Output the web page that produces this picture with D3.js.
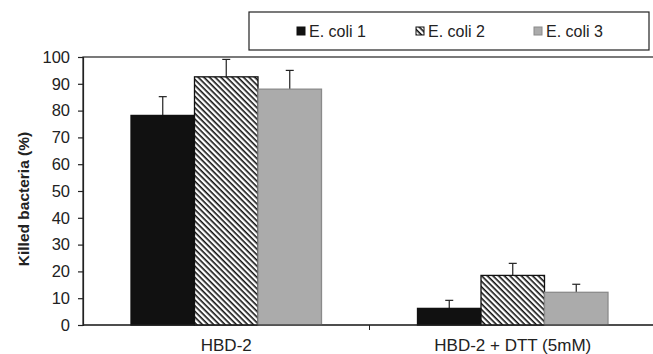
<!DOCTYPE html>
<html>
<head>
<meta charset="utf-8">
<script src="https://cdn.jsdelivr.net/npm/d3@7"></script>
<style>
  body { margin: 0; background: #fff; }
  text { font-family: "Liberation Sans", Arial, sans-serif; }
</style>
</head>
<body>
<script>
// values
var groups = ['HBD-2', 'HBD-2 + DTT (5mM)'];
var series = ['E. coli 1', 'E. coli 2', 'E. coli 3'];
var means = [[78.2, 92.6, 88.0], [6.2, 18.5, 12.2]];
var errs  = [[7.0, 6.5, 7.0], [3.0, 4.5, 3.0]];
var yTicks = [0, 10, 20, 30, 40, 50, 60, 70, 80, 90, 100];

var W = 653, H = 354;
var margin = {top: 57, right: -3, bottom: 29, left: 83},
  width = W - margin.left - margin.right,
  height = H - margin.top - margin.bottom;

var svg = d3.select('body').append('svg')
  .attr('width', W).attr('height', H);

var defs = svg.append('defs');
var pat = defs.append('pattern')
  .attr('id', 'hatch')
  .attr('patternUnits', 'userSpaceOnUse')
  .attr('width', 4).attr('height', 4)
  .attr('patternTransform', 'rotate(45)');
pat.append('rect').attr('width', 4).attr('height', 4).attr('fill', '#fff');
pat.append('rect').attr('width', 4).attr('height', 1.6).attr('fill', '#111');

var fills = ['#111111', 'url(#hatch)', '#ababab'];
var strokes = ['#111111', '#111111', '#8a8a8a'];

var g = svg.append('g')
  .attr('transform', 'translate(' + margin.left + ',' + margin.top + ')');

var x0 = d3.scaleBand().domain(groups).range([0, width]).paddingInner(0).paddingOuter(0);
var x1 = d3.scaleBand().domain(series).range([48, x0.bandwidth() - 48]);
var y = d3.scaleLinear().domain([0, 100]).range([height, 0]);

// frame
g.append('rect')
  .attr('x', 0).attr('y', 0)
  .attr('width', width).attr('height', height)
  .attr('fill', 'none').attr('stroke', '#222').attr('stroke-width', 1.2);

var rows = [];
groups.forEach(function (gr, gi) {
  series.forEach(function (s, si) {
    rows.push({g: gr, s: s, si: si, v: means[gi][si], e: errs[gi][si]});
  });
});

// error bars (behind bars)
var eb = g.selectAll('.err').data(rows).enter().append('g').attr('class', 'err')
  .attr('stroke', '#222').attr('stroke-width', 1.2);
eb.append('line')
  .attr('x1', function (d) { return x0(d.g) + x1(d.s) + x1.bandwidth() / 2; })
  .attr('x2', function (d) { return x0(d.g) + x1(d.s) + x1.bandwidth() / 2; })
  .attr('y1', function (d) { return y(d.v); })
  .attr('y2', function (d) { return y(d.v + d.e); });
eb.append('line')
  .attr('x1', function (d) { return x0(d.g) + x1(d.s) + x1.bandwidth() / 2 - 4; })
  .attr('x2', function (d) { return x0(d.g) + x1(d.s) + x1.bandwidth() / 2 + 4; })
  .attr('y1', function (d) { return y(d.v + d.e); })
  .attr('y2', function (d) { return y(d.v + d.e); });

g.selectAll('.bar').data(rows).enter().append('rect')
  .attr('class', 'bar')
  .attr('x', function (d) { return x0(d.g) + x1(d.s); })
  .attr('y', function (d) { return y(d.v); })
  .attr('width', x1.bandwidth())
  .attr('height', function (d) { return height - y(d.v); })
  .attr('fill', function (d) { return fills[d.si]; })
  .attr('stroke', function (d) { return strokes[d.si]; })
  .attr('stroke-width', 1.3);

// y axis
var yAxis = g.append('g')
  .call(d3.axisLeft(y).tickValues(yTicks).tickSize(5).tickPadding(8));
yAxis.select('.domain').attr('stroke', '#222').attr('stroke-width', 1.2);
yAxis.selectAll('.tick line').attr('stroke', '#222').attr('stroke-width', 1.2);
yAxis.selectAll('text').attr('font-size', 16.5).attr('fill', '#222')
  .attr('font-family', '"Liberation Sans", Arial, sans-serif');

// x axis
g.append('line')
  .attr('x1', 0).attr('x2', width).attr('y1', height).attr('y2', height)
  .attr('stroke', '#222').attr('stroke-width', 1.2);
g.selectAll('.xtick').data(groups.slice(1)).enter().append('line')
  .attr('x1', function (d) { return x0(d); }).attr('x2', function (d) { return x0(d); })
  .attr('y1', height).attr('y2', height + 5)
  .attr('stroke', '#222').attr('stroke-width', 1);
g.selectAll('.xlabel').data(groups).enter().append('text')
  .text(function (d) { return d; })
  .attr('x', function (d) { return x0(d) + x0.bandwidth() / 2; })
  .attr('y', height + 26)
  .style('text-anchor', 'middle')
  .attr('font-size', 17).attr('fill', '#222');

// y title
svg.append('text')
  .text('Killed bacteria (%)')
  .attr('transform', 'translate(29,' + (margin.top + height / 2 + 8) + ') rotate(-90)')
  .style('text-anchor', 'middle')
  .attr('font-size', 15.5).attr('font-weight', 'bold').attr('fill', '#222');

// legend
var leg = svg.append('g');
leg.append('rect')
  .attr('x', 249).attr('y', 12).attr('width', 400).attr('height', 38)
  .attr('fill', '#fff').attr('stroke', '#222').attr('stroke-width', 1.2);
var legX = [297, 416, 534];
var li = leg.selectAll('.li').data(series).enter().append('g')
  .attr('transform', function (d, i) { return 'translate(' + legX[i] + ',0)'; });
li.append('rect')
  .attr('x', 0).attr('y', 27).attr('width', 8).attr('height', 8)
  .attr('fill', function (d, i) { return fills[i]; })
  .attr('stroke', function (d, i) { return strokes[i]; })
  .attr('stroke-width', 1);
li.append('text')
  .text(function (d) { return d; })
  .attr('x', 12).attr('y', 37)
  .attr('font-size', 16).attr('fill', '#222');
</script>
</body>
</html>
